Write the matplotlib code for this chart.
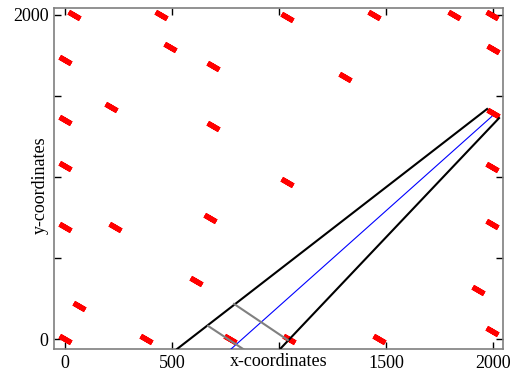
#!/usr/bin/env python3
import numpy as np
import matplotlib
matplotlib.use('Agg')
import matplotlib.pyplot as plt

plt.rcParams['font.family'] = ['Liberation Serif', 'DejaVu Serif']

# red orientation marks (centres)
dash_x = [42, 448, 0, 490, 691, 215, 0, 691, 0,
          1036, 1443, 1816, 1994, 1998, 1307, 1998, 1994,
          0, 233, 677, 612, 65, 0, 378, 770,
          1036, 1994, 1928, 1046, 1466, 1994]
dash_y = [2000, 2000, 1722, 1802, 1685, 1432, 1352, 1315, 1068,
          1988, 2000, 2000, 2000, 1790, 1617, 1395, 1062,
          692, 692, 748, 360, 206, 0, 0, 0,
          970, 711, 304, 0, 0, 49]

# wedge: two edges and the centre ray
upper_x = [1970, 523]
upper_y = [1420, -60]
lower_x = [2026, 1004]
lower_y = [1364, -60]
centre_x = [1993, 775]
centre_y = [1375, -60]

# cross lines between the edges
front1_x = [668, 937]
front1_y = [82, -152]
front2_x = [789, 1040]
front2_y = [218, -5]

xticks = [0, 500, 1000, 1500, 2000]
xtick_labels = ['0', '500', '', '1500', '2000']
yticks = [0, 500, 1000, 1500, 2000]
ytick_labels = ['0', '', '', '', '2000']

fig = plt.figure(figsize=(5.13, 3.77), dpi=100)
ax = fig.add_axes([54.3/513, 1-349/377, (502.7-54.3)/513, (349-8.3)/377])

ax.plot(dash_x, dash_y, ls='none', marker=(2, 2, 60), ms=9.5, mew=3.8,
        color='red', zorder=2)
ax.plot(upper_x, upper_y, color='black', lw=1.5, zorder=3)
ax.plot(lower_x, lower_y, color='black', lw=1.5, zorder=3)
ax.plot(centre_x, centre_y, color='blue', lw=0.8, zorder=3)
ax.plot(front1_x, front1_y, color='gray', lw=1.5, zorder=3)
ax.plot(front2_x, front2_y, color='gray', lw=1.5, zorder=3)

ax.set_xlim(-50, 2043)
ax.set_ylim(-60, 2041)
ax.set_xticks(xticks)
ax.set_xticklabels(xtick_labels)
ax.set_yticks(yticks)
ax.set_yticklabels(ytick_labels)
ax.tick_params(direction='in', length=5, width=1, top=True, right=True,
               labelsize=13, pad=4, color='black')
for s in ax.spines.values():
  s.set_color('#7f7f7f')
  s.set_linewidth(1.2)

ax.set_xlabel('x-coordinates', fontsize=13)
ax.xaxis.set_label_coords(0.5, -0.012)
ax.set_ylabel('y-coordinates', fontsize=13)
ax.yaxis.set_label_coords(-0.012, 0.481)

plt.savefig('out.png', dpi=100)
